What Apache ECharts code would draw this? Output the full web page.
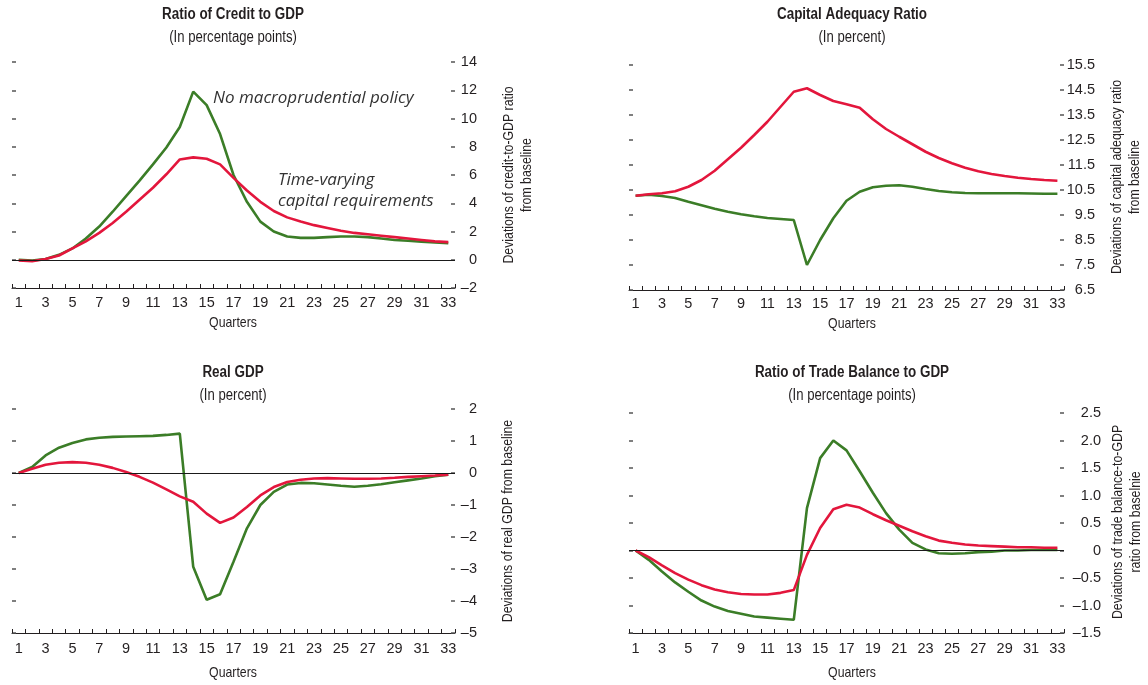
<!DOCTYPE html>
<html>
<head>
<meta charset="utf-8">
<title>Macroprudential policy simulations</title>
<script src="https://cdn.jsdelivr.net/npm/echarts@6/dist/echarts.min.js"></script>
<style>
  html, body { margin: 0; padding: 0; background: #fff; }
  #chart { width: 1148px; height: 685px; }
</style>
</head>
<body>
<div id="chart"></div>
<script>
// Quarters after the shock
const quarters = ['1','2','3','4','5','6','7','8','9','10','11','12','13','14','15','16','17',
  '18','19','20','21','22','23','24','25','26','27','28','29','30','31','32','33'];

// Ratio of credit to GDP (percentage points)
const creditNoPolicy = [0, -0.05, 0.05, 0.35, 0.8, 1.5, 2.35, 3.4, 4.5, 5.6, 6.75, 7.95, 9.4, 11.9, 10.95,
  8.9, 6.0, 4.1, 2.7, 2.0, 1.65, 1.55, 1.55, 1.6, 1.65, 1.65, 1.6, 1.5, 1.4, 1.35, 1.27, 1.22, 1.18];
const creditTVCR = [-0.05, -0.1, 0.05, 0.3, 0.8, 1.3, 1.9, 2.6, 3.4, 4.25, 5.1, 6.05, 7.1, 7.25, 7.15,
  6.75, 5.8, 4.9, 4.1, 3.45, 3.0, 2.7, 2.45, 2.25, 2.05, 1.9, 1.8, 1.7, 1.6, 1.5, 1.4, 1.3, 1.25];
const creditTicks = [-2, 0, 2, 4, 6, 8, 10, 12, 14];

// Capital adequacy ratio (percent)
const carNoPolicy = [10.27, 10.31, 10.26, 10.18, 10.03, 9.89, 9.75, 9.63, 9.53, 9.45, 9.38, 9.34, 9.3,
  7.5, 8.5, 9.37, 10.07, 10.43, 10.61, 10.67, 10.69, 10.63, 10.54, 10.46, 10.41, 10.38, 10.37, 10.37,
  10.37, 10.37, 10.36, 10.35, 10.35];
const carTVCR = [10.27, 10.33, 10.37, 10.45, 10.63, 10.9, 11.27, 11.73, 12.19, 12.7, 13.23, 13.83, 14.43,
  14.57, 14.3, 14.06, 13.93, 13.79, 13.33, 12.94, 12.63, 12.33, 12.03, 11.78, 11.57, 11.39, 11.25, 11.14,
  11.06, 10.99, 10.94, 10.9, 10.87];
const carTicks = [6.5, 7.5, 8.5, 9.5, 10.5, 11.5, 12.5, 13.5, 14.5, 15.5];

// Real GDP (percent)
const gdpNoPolicy = [0, 0.19, 0.55, 0.79, 0.94, 1.05, 1.1, 1.13, 1.14, 1.15, 1.16, 1.19, 1.23, -2.93, -3.96,
  -3.79, -2.77, -1.73, -1.0, -0.59, -0.36, -0.31, -0.32, -0.36, -0.4, -0.43, -0.4, -0.35, -0.29, -0.23,
  -0.17, -0.1, -0.05];
const gdpTVCR = [0, 0.13, 0.26, 0.32, 0.34, 0.32, 0.26, 0.16, 0.03, -0.12, -0.3, -0.51, -0.73, -0.9, -1.27,
  -1.56, -1.39, -1.06, -0.7, -0.44, -0.28, -0.21, -0.17, -0.16, -0.17, -0.18, -0.18, -0.17, -0.15, -0.12,
  -0.1, -0.08, -0.05];
const gdpTicks = [-5, -4, -3, -2, -1, 0, 1, 2];

// Ratio of trade balance to GDP (percentage points)
const tradeNoPolicy = [0, -0.17, -0.38, -0.58, -0.75, -0.91, -1.02, -1.1, -1.15, -1.2, -1.22, -1.24, -1.26,
  0.77, 1.68, 2.0, 1.82, 1.44, 1.05, 0.68, 0.38, 0.14, 0.02, -0.05, -0.06, -0.05, -0.03, -0.02, 0, 0,
  0.01, 0.01, 0.01];
const tradeTVCR = [0, -0.12, -0.27, -0.41, -0.53, -0.63, -0.71, -0.76, -0.79, -0.8, -0.8, -0.77, -0.72,
  -0.08, 0.41, 0.75, 0.83, 0.78, 0.66, 0.55, 0.45, 0.35, 0.26, 0.18, 0.14, 0.11, 0.09, 0.08, 0.07, 0.06,
  0.06, 0.05, 0.05];
const tradeTicks = [-1.5, -1.0, -0.5, 0, 0.5, 1.0, 1.5, 2.0, 2.5];

const GREEN = '#3b7d27';
const RED = '#e3163c';
const INK = '#231f20';
const SANS = "'Liberation Sans', Arial, sans-serif";
const NARROW_X = 0.82;   // horizontal squeeze giving a narrow face

const chart = echarts.init(document.getElementById('chart'), null, { renderer: 'canvas' });

// Plot frames and label placement for the four panels
const panels = [
  { grid: { left: 12, top: 62, width: 443, height: 226 }, ticks: creditTicks, decimals: 0,
    green: creditNoPolicy, red: creditTVCR, zeroLine: true, labelMargin: 22, xMargin: 7, qGap: 35,
    title: 'Ratio of Credit to GDP', sub: '(In percentage points)', cx: 233, ty: 15,
    axisName: 'Deviations of credit-to-GDP ratio\nfrom baseline', nx: 518, ny: 175 },
  { grid: { left: 629, top: 65, width: 435, height: 225 }, ticks: carTicks, decimals: 1,
    green: carNoPolicy, red: carTVCR, zeroLine: false, labelMargin: 31, xMargin: 6, qGap: 34,
    title: 'Capital Adequacy Ratio', sub: '(In percent)', cx: 852, ty: 15,
    axisName: 'Deviations of capital adequacy ratio\nfrom baseline', nx: 1126, ny: 177 },
  { grid: { left: 12, top: 409, width: 443, height: 224 }, ticks: gdpTicks, decimals: 0,
    green: gdpNoPolicy, red: gdpTVCR, zeroLine: true, labelMargin: 22, xMargin: 8, qGap: 40,
    title: 'Real GDP', sub: '(In percent)', cx: 233, ty: 373,
    axisName: 'Deviations of real GDP from baseline', nx: 508, ny: 521 },
  { grid: { left: 629, top: 413, width: 435, height: 220 }, ticks: tradeTicks, decimals: 1,
    green: tradeNoPolicy, red: tradeTVCR, zeroLine: true, labelMargin: 37, xMargin: 8, qGap: 40,
    title: 'Ratio of Trade Balance to GDP', sub: '(In percentage points)', cx: 852, ty: 373,
    axisName: 'Deviations of trade balance-to-GDP\nratio from baselnie', nx: 1127, ny: 522 }
];

function tickLabel(v, decimals) {
  if (Math.abs(v) < 1e-9) return '0';
  const s = Math.abs(v).toFixed(decimals);
  return v < 0 ? '\u2013' + s : s;
}

function narrowText(x, y, text, font, extra) {
  return Object.assign({
    type: 'text', x: x, y: y, scaleX: NARROW_X, silent: true,
    style: { text: text, fill: INK, align: 'center', verticalAlign: 'middle', font: font, lineHeight: 18 }
  }, extra || {});
}

const grids = [], xAxes = [], yAxes = [], series = [], graphics = [];

panels.forEach(function (p, i) {
  const lo = p.ticks[0];
  const hi = p.ticks[p.ticks.length - 1];
  const step = p.ticks[1] - p.ticks[0];
  grids.push(p.grid);

  xAxes.push({
    type: 'category', gridIndex: i, data: quarters, boundaryGap: true,
    axisLine: { onZero: false, lineStyle: { color: INK, width: 1 } },
    axisTick: { show: true, inside: true, length: 4, interval: 0, lineStyle: { color: INK, width: 1 } },
    axisLabel: { interval: 1, margin: p.xMargin, color: INK, fontFamily: SANS, fontSize: 14.5 },
    splitLine: { show: false }
  });

  const common = {
    type: 'value', gridIndex: i, min: lo, max: hi, interval: step,
    axisLine: { show: false },
    axisTick: { show: true, inside: true, length: 4, lineStyle: { color: '#555', width: 1.5 } },
    splitLine: { show: false }
  };
  // dashes on the left edge
  yAxes.push(Object.assign({}, common, { position: 'left', axisLabel: { show: false } }));
  // labelled scale on the right edge
  yAxes.push(Object.assign({}, common, {
    position: 'right',
    axisLabel: {
      show: true, margin: p.labelMargin, align: 'right', color: INK, fontFamily: SANS, fontSize: 14.5,
      formatter: function (v) { return tickLabel(v, p.decimals); }
    }
  }));

  const green = {
    type: 'line', xAxisIndex: i, yAxisIndex: 2 * i + 1, data: p.green, name: 'No macroprudential policy',
    symbol: 'none', smooth: false, lineStyle: { color: GREEN, width: 2.6 }, z: 3, silent: true
  };
  if (p.zeroLine) {
    green.markLine = {
      silent: true, symbol: 'none', label: { show: false },
      lineStyle: { color: '#1a1a1a', width: 1, type: 'solid' },
      data: [{ yAxis: 0 }]
    };
  }
  series.push(green);
  series.push({
    type: 'line', xAxisIndex: i, yAxisIndex: 2 * i + 1, data: p.red, name: 'Time-varying capital requirements',
    symbol: 'none', smooth: false, lineStyle: { color: RED, width: 2.6 }, z: 4, silent: true
  });

  // panel heading, subheading, axis titles
  graphics.push(narrowText(p.cx, p.ty, p.title, 'bold 16px ' + SANS, { scaleX: 0.84 }));
  graphics.push(narrowText(p.cx, p.ty + 23, p.sub, '16px ' + SANS));
  graphics.push(narrowText(p.cx, p.grid.top + p.grid.height + p.qGap, 'Quarters', '15px ' + SANS));
  graphics.push(narrowText(p.nx, p.ny, p.axisName, '15px ' + SANS, { rotation: Math.PI / 2 }));
});

// series captions in the credit panel
const ITALIC = "italic 17px 'Open Sans', 'Noto Sans', sans-serif";
function caption(x, y, text) {
  return { type: 'text', x: x, y: y, silent: true,
    style: { text: text, fill: '#333', align: 'left', verticalAlign: 'middle', font: ITALIC } };
}
graphics.push(caption(213, 98, 'No macroprudential policy'));
graphics.push(caption(278, 180, 'Time-varying'));
graphics.push(caption(278, 201, 'capital requirements'));

chart.setOption({
  animation: false,
  backgroundColor: '#ffffff',
  grid: grids,
  xAxis: xAxes,
  yAxis: yAxes,
  series: series,
  graphic: graphics
});
</script>
</body>
</html>
